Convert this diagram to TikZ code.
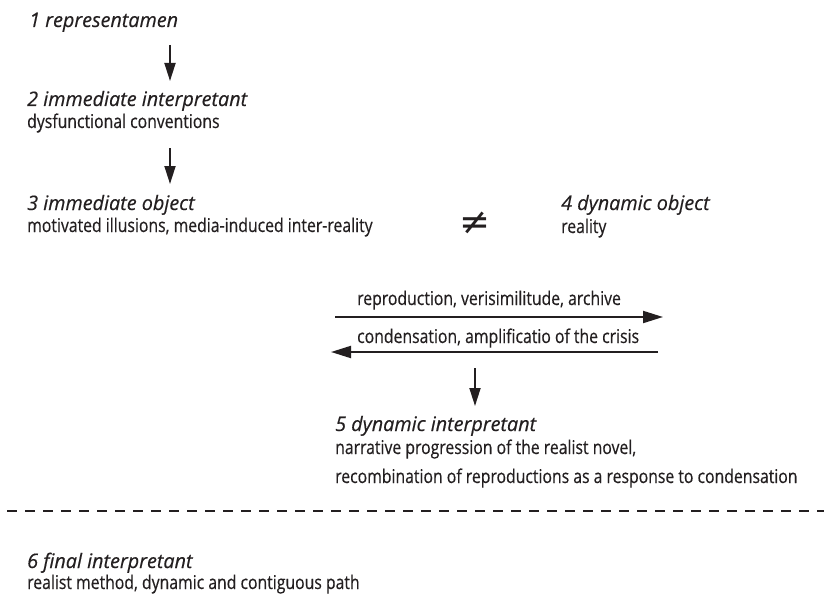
\documentclass[tikz,border=0pt]{standalone}
\usepackage{fontspec}
\setmainfont{Open Sans}
\newfontfamily\headfont{Open Sans}[FakeStretch=0.99,FakeBold=0.4]
\newfontfamily\bodyfont{Open Sans}[FakeStretch=0.83,FakeBold=0.4]
\newfontfamily\symfont{DejaVu Sans}
\usetikzlibrary{arrows.meta}
\definecolor{ink}{HTML}{231F20}
\tikzset{
  head/.style={anchor=base west, inner sep=0pt, text=ink, font=\headfont\itshape\fontsize{20}{23}\selectfont},
  body/.style={anchor=base west, inner sep=0pt, text=ink, font=\bodyfont\fontsize{19}{22}\selectfont},
  varrow/.style={draw=ink, line width=1.8pt, -{Triangle[length=18pt,width=11pt]}},
  harrow/.style={draw=ink, line width=2pt, -{Triangle[length=20pt,width=12pt]}},
  sep/.style={draw=ink, line width=1.6pt, dash pattern=on 10pt off 8pt}
}
\begin{document}
\begin{tikzpicture}[x=1pt,y=-1pt]
\useasboundingbox (0,0) rectangle (824,599);
% texts
\node[head] (h1) at (29,27) {1 representamen};
\node[head] (h2) at (27,106) {2 immediate interpretant};
\node[body] (b2) at (27,128) {dysfunctional conventions};
\node[head] (h3) at (27,210) {3 immediate object};
\node[body] (b3) at (27,232) {motivated illusions, media-induced inter-reality};
\node[anchor=center, inner sep=0pt, text=ink, font=\symfont\fontsize{37}{40}\selectfont] (ne) at (475,223) {≠};
\node[head] (h4) at (561,210) {4 dynamic object};
\node[body] (b4) at (561,233) {reality};
\node[body] (t1) at (357,305) {reproduction, verisimilitude, archive};
\node[body] (t2) at (357,343) {condensation, amplificatio of the crisis};
\node[head] (h5) at (335,431) {5 dynamic interpretant};
\node[body] (b5a) at (335,454) {narrative progression of the realist novel,};
\node[body] (b5b) at (335,483) {recombination of reproductions as a response to condensation};
\node[head] (h6) at (27,568) {6 final interpretant};
\node[body] (b6) at (27,589) {realist method, dynamic and contiguous path};
% connector ends
\coordinate (a1s) at (170,45);  \coordinate (a1e) at (170,81);
\coordinate (a2s) at (170,148); \coordinate (a2e) at (170,184);
\coordinate (rs) at (335,317);  \coordinate (re) at (663,317);
\coordinate (ls) at (658,352);  \coordinate (le) at (331,352);
\coordinate (ds) at (475,368);  \coordinate (de) at (475,406);
\coordinate (dl) at (7,511);    \coordinate (dr) at (824,511);
% connectors
\draw[varrow] (a1s) -- (a1e);
\draw[varrow] (a2s) -- (a2e);
\draw[harrow] (rs) -- (re);
\draw[harrow] (ls) -- (le);
\draw[varrow] (ds) -- (de);
\draw[sep] (dl) -- (dr);
\end{tikzpicture}
\end{document}
